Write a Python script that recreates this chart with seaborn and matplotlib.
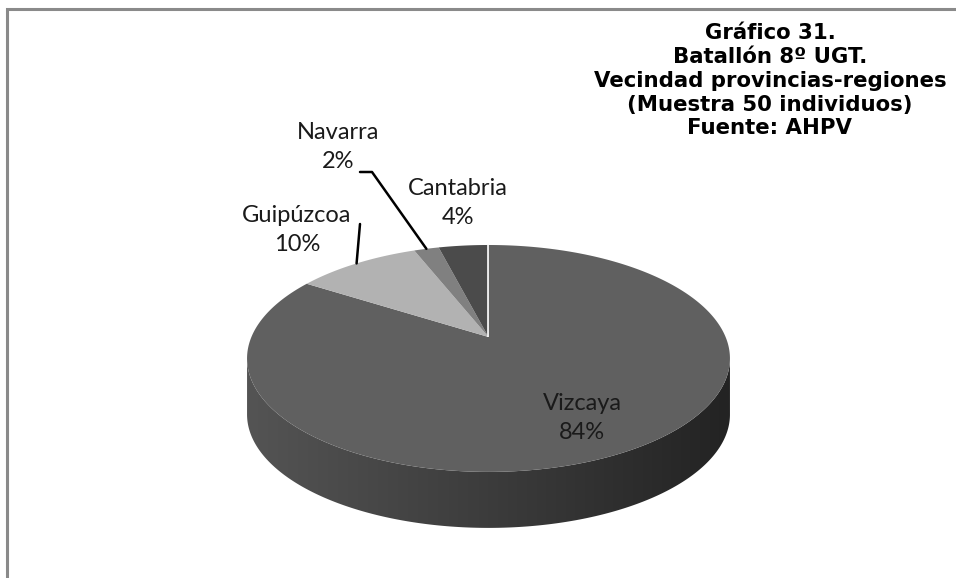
import numpy as np
import matplotlib
matplotlib.use("Agg")
import matplotlib.pyplot as plt
import seaborn as sns
from matplotlib.patches import Polygon, Rectangle
from matplotlib.path import Path
from matplotlib.transforms import Transform

# ---- data ----
categories = ["Vizcaya", "Guipúzcoa", "Navarra", "Cantabria"]
percentages = [84, 10, 2, 4]
slice_colors = ["#606060", "#b2b2b2", "#808080", "#4b4b4b"]
title_lines = ["Gráfico 31.", "Batallón 8º UGT.", "Vecindad provincias-regiones",
               "(Muestra 50 individuos)", "Fuente: AHPV"]

sns.set_theme(style="white")
plt.rcParams["font.family"] = ["Lato", "DejaVu Sans"]

W, H = 956, 578
fig = plt.figure(figsize=(W / 100, H / 100), dpi=100)
fig.patch.set_facecolor("white")

# perspective geometry of the 3-D pie (pixels)
APEX_X, APEX_Y = 488.5, 337.0     # image coords of the pie centre
SXP, SYP, K = 237.1, 109.4, 0.189
DEPTH = 56.0


class Perspective(Transform):
    """Maps the unit pie disc onto a tilted disc seen in perspective (figure pixels)."""
    input_dims = 2
    output_dims = 2
    is_separable = False
    has_inverse = False

    def transform_non_affine(self, values):
        v = np.asarray(values, dtype=float).reshape(-1, 2)
        u, w = v[:, 0], v[:, 1]
        d = 1.0 + K * w
        return np.column_stack([APEX_X + SXP * u / d, (H - APEX_Y) + SYP * w / d])

    def transform_path_non_affine(self, path):
        pts = []
        cur = None
        start = None
        for verts, code in path.iter_segments(curves=True, simplify=False):
            verts = np.asarray(verts).reshape(-1, 2)
            if code == Path.MOVETO:
                cur = verts[0]
                start = cur
                pts.append(cur)
            elif code == Path.LINETO:
                t = np.linspace(0, 1, 12)[1:, None]
                pts.extend(cur + t * (verts[0] - cur))
                cur = verts[0]
            elif code == Path.CURVE3:
                t = np.linspace(0, 1, 30)[1:, None]
                p0, p1, p2 = cur, verts[0], verts[1]
                pts.extend((1 - t) ** 2 * p0 + 2 * (1 - t) * t * p1 + t ** 2 * p2)
                cur = p2
            elif code == Path.CURVE4:
                t = np.linspace(0, 1, 30)[1:, None]
                p0, p1, p2, p3 = cur, verts[0], verts[1], verts[2]
                pts.extend((1 - t) ** 3 * p0 + 3 * (1 - t) ** 2 * t * p1
                           + 3 * (1 - t) * t ** 2 * p2 + t ** 3 * p3)
                cur = p3
            elif code == Path.CLOSEPOLY:
                pts.append(start)
                cur = start
        pts = np.array(pts)
        return Path(self.transform_non_affine(pts))


ax = fig.add_axes([0, 0, 1, 1])
wedges, _ = ax.pie(percentages, colors=slice_colors, startangle=90, counterclock=False,
                   radius=1, center=(0, 0), frame=False,
                   wedgeprops=dict(linewidth=0, zorder=3))
persp = Perspective()
ptrans = persp + ax.transData
for w in wedges:
    w.set_transform(ptrans)
ax.set_aspect("auto")
ax.set_xlim(0, W)
ax.set_ylim(0, H)
ax.axis("off")

# frame (extends beyond the image to the right and bottom)
ax.add_patch(Rectangle((7, -50), 2000, H - 9 + 50, fill=False, edgecolor="#8a8a8a",
                       linewidth=2.2, zorder=0, clip_on=False))

# side of the disc with horizontal gradient
a0 = np.arcsin(K)
al = np.linspace(np.pi + a0, 2 * np.pi - a0, 300)
top_edge = persp.transform(np.column_stack([np.cos(al), np.sin(al)]))
bot_edge = top_edge[::-1] - np.array([0, DEPTH])
side = Polygon(np.vstack([top_edge, bot_edge]), closed=True, facecolor="none", edgecolor="none")
ax.add_patch(side)
grad = np.linspace(0, 1, 256)[None, :]
cmap = matplotlib.colors.LinearSegmentedColormap.from_list("side", ["#545454", "#3c3c3c", "#232323"])
xmin, xmax = top_edge[:, 0].min(), top_edge[:, 0].max()
im = ax.imshow(grad, extent=(xmin, xmax, bot_edge[:, 1].min() - 2, top_edge[:, 1].max() + 2),
               aspect="auto", cmap=cmap, zorder=1)
im.set_clip_path(side)
ax.set_xlim(0, W)
ax.set_ylim(0, H)

# white separator at the start angle
th0 = np.radians(wedges[0].theta2)
ax.plot([0, np.cos(th0)], [0, np.sin(th0)], color="white", lw=1.2, zorder=4,
        transform=ptrans, solid_capstyle="butt")

# labels (image pixel centres)
label_pos = {"Vizcaya": (582, 418), "Guipúzcoa": (297, 230),
             "Navarra": (338, 147), "Cantabria": (458, 203)}
for cat, pct in zip(categories, percentages):
    x, y = label_pos[cat]
    ax.text(x, H - y, f"{cat}\n{pct}%", ha="center", va="center",
            fontsize=17, color="#1a1a1a", linespacing=1.5, zorder=5)


def mid_point(w):
    a = np.radians((w.theta1 + w.theta2) / 2)
    return np.cos(a), np.sin(a)


# leader lines
nav = wedges[categories.index("Navarra")]
guip = wedges[categories.index("Guipúzcoa")]
bx, by = mid_point(nav)
px, py = persp.transform(np.array([[bx, by]]))[0]
corner = (372, H - 172)
angB = np.degrees(np.arctan2(corner[1] - py, corner[0] - px))
ax.annotate("", xy=(bx, by), xycoords=ptrans, xytext=(360, H - 172), textcoords="data",
            arrowprops=dict(arrowstyle="-", color="black", lw=1.8,
                            connectionstyle=f"angle,angleA=0,angleB={angB:.1f},rad=0",
                            shrinkA=0, shrinkB=0), annotation_clip=False, zorder=5)
gx, gy = mid_point(guip)
ax.annotate("", xy=(gx, gy), xycoords=ptrans, xytext=(360, H - 224), textcoords="data",
            arrowprops=dict(arrowstyle="-", color="black", lw=1.8, shrinkA=0, shrinkB=0),
            annotation_clip=False, zorder=5)

# title
ax.text(770, H - 23, "\n".join(title_lines), ha="center", va="top",
        fontsize=15.3, fontweight="bold", family=["DejaVu Sans"],
        linespacing=1.24, color="black", zorder=5)

fig.savefig("out.png", dpi=100)
